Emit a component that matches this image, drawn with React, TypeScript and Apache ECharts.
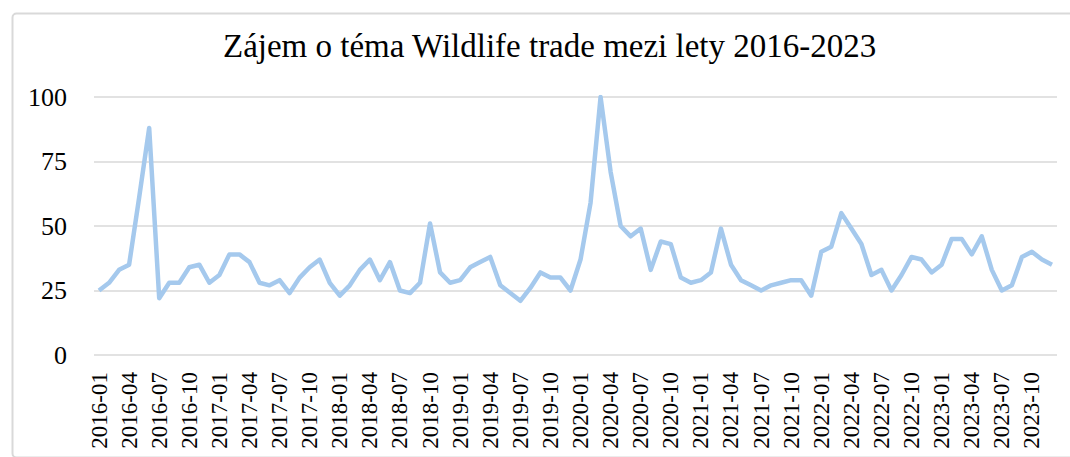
import React, { useEffect, useRef } from "react";
import * as echarts from "echarts";

const years = [2016, 2017, 2018, 2019, 2020, 2021, 2022, 2023];
const months = ["01", "02", "03", "04", "05", "06", "07", "08", "09", "10", "11", "12"];
const categories: string[] = [];
years.forEach((y) => months.forEach((m) => categories.push(`${y}-${m}`)));

const values2016 = [25, 28, 33, 35, 61, 88, 22, 28, 28, 34, 35, 28];
const values2017 = [31, 39, 39, 36, 28, 27, 29, 24, 30, 34, 37, 28];
const values2018 = [23, 27, 33, 37, 29, 36, 25, 24, 28, 51, 32, 28];
const values2019 = [29, 34, 36, 38, 27, 24, 21, 26, 32, 30, 30, 25];
const values2020 = [37, 59, 100, 71, 50, 46, 49, 33, 44, 43, 30, 28];
const values2021 = [29, 32, 49, 35, 29, 27, 25, 27, 28, 29, 29, 23];
const values2022 = [40, 42, 55, 49, 43, 31, 33, 25, 31, 38, 37, 32];
const values2023 = [35, 45, 45, 39, 46, 33, 25, 27, 38, 40, 37, 35];
const values = [
  ...values2016, ...values2017, ...values2018, ...values2019,
  ...values2020, ...values2021, ...values2022, ...values2023,
];

const title = "Zájem o téma Wildlife trade mezi lety 2016-2023";
const serif = "'Liberation Serif', 'Times New Roman', serif";

export default function App() {
  const ref = useRef<HTMLDivElement>(null);
  useEffect(() => {
    document.body.style.margin = "0";
    if (!ref.current) return;
    const chart = echarts.init(ref.current, null, { renderer: "svg" });
    chart.setOption({
      animation: false,
      backgroundColor: "#ffffff",
      title: {
        text: title,
        left: 218,
        top: 24,
        textStyle: { fontFamily: serif, fontSize: 33, fontWeight: "normal", color: "#000" },
      },
      graphic: [
        {
          type: "rect",
          left: 10,
          top: 11,
          shape: { width: 1080, height: 444, r: 4 },
          style: { fill: "none", stroke: "#d9d9d9", lineWidth: 2 },
          silent: true,
        },
      ],
      grid: { left: 94, right: 13, top: 97, bottom: 102, containLabel: false },
      xAxis: {
        type: "category",
        data: categories,
        boundaryGap: true,
        axisLine: { show: false },
        axisTick: { show: false },
        axisLabel: {
          interval: 2,
          rotate: 90,
          fontFamily: serif,
          fontSize: 23,
          color: "#000",
          margin: 17,
        },
      },
      yAxis: {
        type: "value",
        min: 0,
        max: 100,
        interval: 25,
        axisLine: { show: false },
        axisTick: { show: false },
        splitLine: { lineStyle: { color: "#d9d9d9", width: 1.5 } },
        axisLabel: { fontFamily: serif, fontSize: 26, color: "#000", margin: 27 },
      },
      series: [
        {
          type: "line",
          data: values,
          symbol: "none",
          lineStyle: { color: "#a5c9ed", width: 4.5, join: "round" },
        },
      ],
    });
    return () => chart.dispose();
  }, []);
  return <div ref={ref} style={{ width: 1070, height: 457 }} />;
}
